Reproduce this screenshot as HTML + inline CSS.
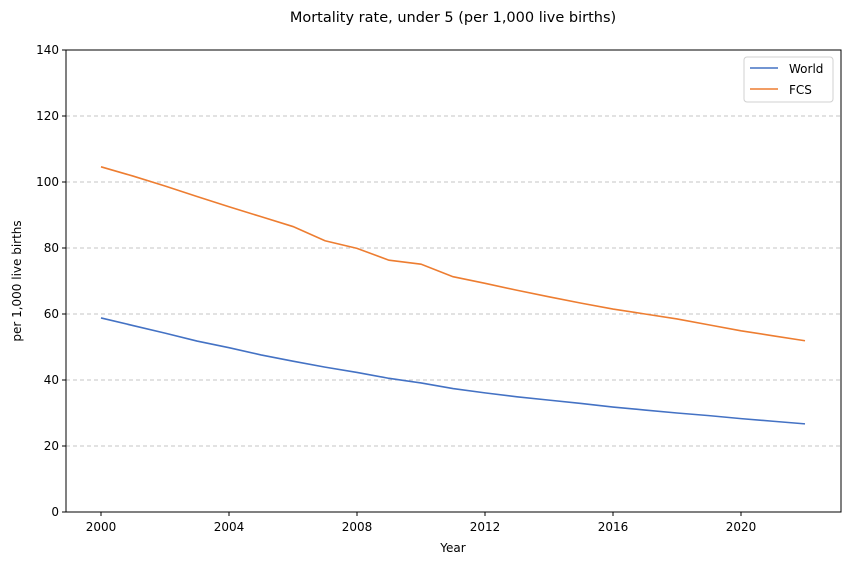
<!DOCTYPE html>
<html><head><meta charset="utf-8"><style>
body{margin:0;background:#fff;font-family:"Liberation Sans","DejaVu Sans",sans-serif}
svg text{font-family:"DejaVu Sans","Liberation Sans",sans-serif}
</style></head><body>
<svg id="chart" width="850" height="565" xmlns="http://www.w3.org/2000/svg"></svg>
<script>
const years=[2000,2001,2002,2003,2004,2005,2006,2007,2008,2009,2010,2011,2012,2013,2014,2015,2016,2017,2018,2019,2020,2021,2022];
const worldValues=[58.8,56.5,54.2,51.8,49.8,47.6,45.7,43.9,42.3,40.5,39.1,37.4,36.1,34.9,33.9,32.9,31.8,30.9,30.0,29.2,28.3,27.5,26.7];
const fcsValues=[104.6,101.8,98.8,95.6,92.5,89.5,86.5,82.2,79.9,76.3,75.1,71.3,69.3,67.2,65.2,63.3,61.5,60.0,58.5,56.7,54.9,53.4,51.9];
const xTicks=[2000,2004,2008,2012,2016,2020];
const yTicks=[0,20,40,60,80,100,120,140];
const L=66,R=841,T=50,B=512;
const x=v=>101+(v-2000)*32;
const y=v=>B-(v/140)*(B-T);
const svg=document.getElementById('chart');
const NS='http://www.w3.org/2000/svg';
function mk(tag,attrs,name,parent){const e=document.createElementNS(NS,tag);for(const k in attrs)e.setAttribute(k,attrs[k]);


(parent||svg).appendChild(e);return e;}
yTicks.forEach(t=>{
 if(t>0&&t<140) mk('line',{x1:L,x2:R,y1:y(t),y2:y(t),stroke:'#b4b4b4','stroke-dasharray':'4,3','stroke-width':0.8},'grid-line');
 mk('line',{x1:L-4,x2:L,y1:y(t),y2:y(t),stroke:'#000'},'y-tick');
 const tx=mk('text',{x:L-7,y:y(t)+4,'text-anchor':'end','font-size':12},'y-tick-label');tx.textContent=t;
});
xTicks.forEach(t=>{
 mk('line',{x1:x(t),x2:x(t),y1:B,y2:B+4,stroke:'#000'},'x-tick');
 const tx=mk('text',{x:x(t),y:B+19,'text-anchor':'middle','font-size':12},'x-tick-label');tx.textContent=t;
});
function line(vals,color,name){mk('polyline',{points:vals.map((v,i)=>x(years[i])+','+y(v)).join(' '),fill:'none',stroke:color,'stroke-width':1.6},name);}
line(worldValues,'#4472c4','world-line');
line(fcsValues,'#ed7d31','fcs-line');
mk('rect',{x:L,y:T,width:R-L,height:B-T,fill:'none',stroke:'#000','stroke-width':1},'plot-frame');
let t=mk('text',{x:453,y:22,'text-anchor':'middle','font-size':14.5},'chart-title');t.textContent='Mortality rate, under 5 (per 1,000 live births)';
t=mk('text',{x:453,y:552,'text-anchor':'middle','font-size':12},'x-axis-title');t.textContent='Year';
t=mk('text',{x:21,y:281,'text-anchor':'middle','font-size':12,transform:'rotate(-90 21 281)'},'y-axis-title');t.textContent='per 1,000 live births';
const g=mk('g',{},'legend');
mk('rect',{x:744,y:57,width:89,height:45,rx:3,fill:'#fff',stroke:'#d0d0d0'},'legend-box',g);
mk('line',{x1:750,x2:778,y1:68,y2:68,stroke:'#4472c4','stroke-width':1.6},'legend-world-swatch',g);
t=mk('text',{x:789,y:73,'font-size':12},'legend-world-label',g);t.textContent='World';
mk('line',{x1:750,x2:778,y1:89,y2:89,stroke:'#ed7d31','stroke-width':1.6},'legend-fcs-swatch',g);
t=mk('text',{x:789,y:94,'font-size':12},'legend-fcs-label',g);t.textContent='FCS';
</script>
</body></html>
